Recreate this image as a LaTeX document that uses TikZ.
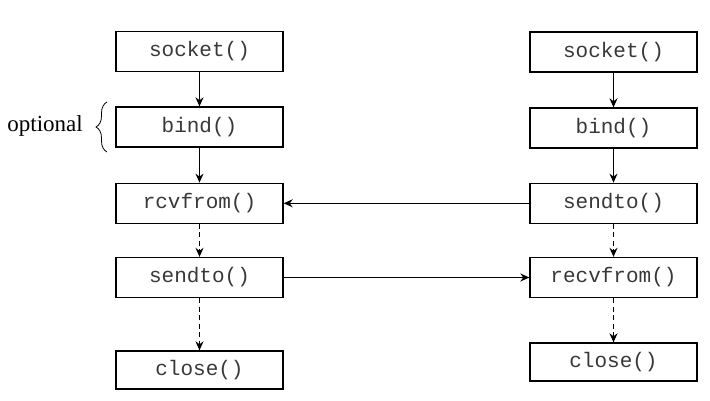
\documentclass[tikz,border=0pt]{standalone}
\usepackage{fontspec}
\setmainfont{Liberation Serif}
\setmonofont{Liberation Mono}
\usetikzlibrary{arrows.meta,decorations.pathreplacing}
\begin{document}
\begin{tikzpicture}[x=1pt,y=-1pt,
  fn/.style={draw, line width=1.3pt, minimum width=167pt, minimum height=40pt, inner sep=0pt,
    font=\fontsize{21}{24}\selectfont\ttfamily, text=black!78},
  arr/.style={line width=1.3pt, -{Stealth[length=9pt,width=8pt]}},
  darr/.style={arr, dash pattern=on 5pt off 3.5pt}]
\useasboundingbox (0,0) rectangle (710,400);
% left column
\node[fn] (lsock) at (199.5,51.5) {socket()};
\node[fn] (lbind) at (199.5,127) {bind()};
\node[fn] (lrecv) at (199.5,203.3) {rcvfrom()};
\node[fn] (lsend) at (199.5,277.5) {sendto()};
\node[fn, minimum height=38pt] (lclose) at (199.5,370) {close()};
% right column
\node[fn] (rsock) at (613.5,52) {socket()};
\node[fn] (rbind) at (613.5,128) {bind()};
\node[fn] (rsend) at (613.5,203.3) {sendto()};
\node[fn] (rrecv) at (613.5,277.5) {recvfrom()};
\node[fn, minimum height=38pt] (rclose) at (613.5,362) {close()};
% vertical arrows
\draw[arr] (lsock) -- (lbind);
\draw[arr] (lbind) -- (lrecv);
\draw[darr] (lrecv) -- (lsend);
\draw[darr] (lsend) -- (lclose);
\draw[arr] (rsock) -- (rbind);
\draw[arr] (rbind) -- (rsend);
\draw[darr] (rsend) -- (rrecv);
\draw[darr] (rrecv) -- (rclose);
% horizontal arrows
\draw[arr] (rsend) -- (lrecv);
\draw[arr] (lsend) -- (rrecv);
% brace
\coordinate (bb) at (107,152);
\coordinate (bt) at (107,102);
\draw[line width=0.8pt, decoration={brace, amplitude=11pt}, decorate] (bb) -- (bt);
\node[anchor=east, font=\fontsize{23}{26}\selectfont, inner sep=0pt] (opt) at (83,126) {optional};
\end{tikzpicture}
\end{document}
